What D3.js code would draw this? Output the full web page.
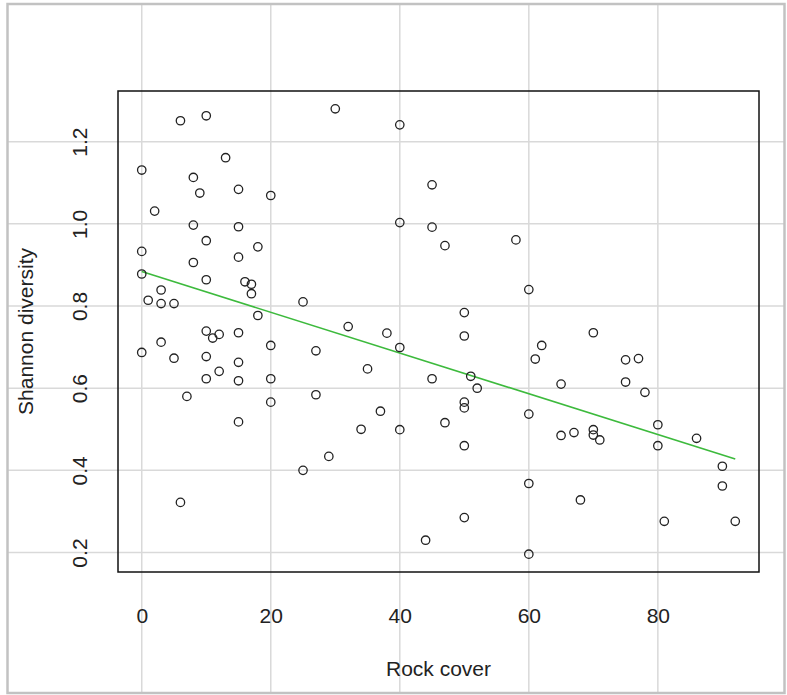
<!DOCTYPE html>
<html>
<head>
<meta charset="utf-8">
<script src="https://cdn.jsdelivr.net/npm/d3@7"></script>
<style>
  body { margin: 0; background: #fff; }
  text { font-family: "Liberation Sans", Arial, sans-serif; fill: #222; }
</style>
</head>
<body>
<div id="chart"></div>
<script>
// Rock cover (x) and Shannon diversity (y)
const rockCover = [
  6, 10, 30, 13, 0, 8, 9, 15, 20, 2,
  8, 15, 0, 10, 18, 15, 8, 0, 10, 16,
  17, 17, 3, 1, 3, 5, 25, 18, 40, 45,
  40, 45, 47, 58, 60, 50, 32, 10, 11, 12,
  15, 3, 0, 5, 10, 15, 12, 10, 15, 20,
  20, 27, 27, 7, 20, 15, 29, 25, 6, 38,
  40, 50, 35, 45, 51, 52, 62, 61, 65, 37,
  34, 40, 47, 50, 50, 60, 65, 50, 60, 50,
  44, 60, 70, 75, 77, 75, 78, 67, 70, 70,
  71, 80, 80, 86, 90, 90, 68, 81, 92
];
const shannon = [
  1.251, 1.263, 1.280, 1.161, 1.131, 1.113, 1.075, 1.084, 1.069, 1.031,
  0.997, 0.993, 0.933, 0.959, 0.944, 0.919, 0.906, 0.878, 0.864, 0.859,
  0.853, 0.830, 0.839, 0.814, 0.806, 0.806, 0.810, 0.777, 1.241, 1.095,
  1.003, 0.992, 0.947, 0.961, 0.840, 0.784, 0.750, 0.739, 0.722, 0.731,
  0.735, 0.712, 0.687, 0.673, 0.677, 0.663, 0.641, 0.623, 0.618, 0.704,
  0.623, 0.691, 0.584, 0.580, 0.566, 0.518, 0.434, 0.400, 0.322, 0.734,
  0.699, 0.727, 0.647, 0.623, 0.629, 0.600, 0.704, 0.671, 0.610, 0.544,
  0.500, 0.499, 0.516, 0.566, 0.552, 0.537, 0.485, 0.460, 0.368, 0.285,
  0.230, 0.196, 0.735, 0.669, 0.672, 0.615, 0.590, 0.492, 0.499, 0.486,
  0.474, 0.511, 0.460, 0.478, 0.410, 0.362, 0.328, 0.276, 0.276
];
const xTicks = [0, 20, 40, 60, 80];
const yTicks = [0.2, 0.4, 0.6, 0.8, 1.0, 1.2];
// fitted line
const fitIntercept = 0.884;
const fitSlope = -0.00496;

const W = 787, H = 695;
const margin = { top: 91, right: 28, bottom: 123, left: 118 };
const width = W - margin.left - margin.right;
const height = H - margin.top - margin.bottom;

const data = rockCover.map((x, i) => ({ x, y: shannon[i] }));

// R style 4% padding on each side
function padded(ext) {
  const r = ext[1] - ext[0];
  return [ext[0] - 0.04 * r, ext[1] + 0.04 * r];
}
const xExt = d3.extent(rockCover);

const x = d3.scaleLinear().domain(padded(xExt)).range([0, width]);
const y = d3.scaleLinear().domain(padded(d3.extent(shannon))).range([height, 0]);

const svg = d3.select('#chart').append('svg')
  .attr('width', W)
  .attr('height', H);

svg.append('rect').attr('width', W).attr('height', H).attr('fill', '#fff');

const g = svg.append('g')
  .attr('transform', `translate(${margin.left},${margin.top})`);

// grid lines run over the whole picture
const gridColor = '#d9d9d9';
g.selectAll('.vgrid')
  .data(xTicks)
  .enter().append('line')
  .attr('x1', d => x(d)).attr('x2', d => x(d))
  .attr('y1', 4 - margin.top).attr('y2', 693 - margin.top)
  .attr('stroke', gridColor).attr('stroke-width', 1.5);

g.selectAll('.hgrid')
  .data(yTicks)
  .enter().append('line')
  .attr('x1', 7 - margin.left).attr('x2', 785 - margin.left)
  .attr('y1', d => y(d)).attr('y2', d => y(d))
  .attr('stroke', gridColor).attr('stroke-width', 1.5);

// outer frame
svg.append('rect')
  .attr('x', 7.5).attr('y', 4)
  .attr('width', 777).attr('height', 689)
  .attr('fill', 'none')
  .attr('stroke', '#c2c2c2')
  .attr('stroke-width', 2.5);

// axes (labels only, no ticks)
const xAxis = g.append('g')
  .attr('transform', `translate(0,${height})`)
  .call(d3.axisBottom(x).tickValues(xTicks).tickSize(0).tickFormat(d3.format('d')));
xAxis.select('.domain').remove();
xAxis.selectAll('text')
  .attr('y', 0)
  .attr('dy', 0)
  .attr('transform', 'translate(0,51)')
  .style('font-size', '21px')
  .style('font-family', '"Liberation Sans", Arial, sans-serif')
  .attr('fill', '#222');

const yAxis = g.append('g')
  .call(d3.axisLeft(y).tickValues(yTicks).tickSize(0).tickFormat(d3.format('.1f')));
yAxis.select('.domain').remove();
yAxis.selectAll('text')
  .attr('x', 0)
  .attr('dy', 0)
  .attr('transform', 'translate(-31,0) rotate(-90)')
  .attr('text-anchor', 'middle')
  .style('font-size', '21px')
  .style('font-family', '"Liberation Sans", Arial, sans-serif')
  .attr('fill', '#222');

// plot box
g.append('rect')
  .attr('width', width).attr('height', height)
  .attr('fill', 'none')
  .attr('stroke', '#111')
  .attr('stroke-width', 1.5);

// fit line
g.append('line')
  .attr('x1', x(xExt[0])).attr('y1', y(fitIntercept + fitSlope * xExt[0]))
  .attr('x2', x(xExt[1])).attr('y2', y(fitIntercept + fitSlope * xExt[1]))
  .attr('stroke', '#3dba3d')
  .attr('stroke-width', 1.6);

// points
g.selectAll('.pt')
  .data(data)
  .enter().append('circle')
  .attr('class', 'pt')
  .attr('cx', d => x(d.x))
  .attr('cy', d => y(d.y))
  .attr('r', 4.2)
  .attr('fill', 'none')
  .attr('stroke', '#222')
  .attr('stroke-width', 1.3);

// axis titles
svg.append('text')
  .attr('x', margin.left + width / 2)
  .attr('y', 676)
  .attr('text-anchor', 'middle')
  .style('font-size', '21px')
  .text('Rock cover');

svg.append('text')
  .attr('transform', `translate(33,${margin.top + height / 2}) rotate(-90)`)
  .attr('text-anchor', 'middle')
  .style('font-size', '21px')
  .text('Shannon diversity');
</script>
</body>
</html>
